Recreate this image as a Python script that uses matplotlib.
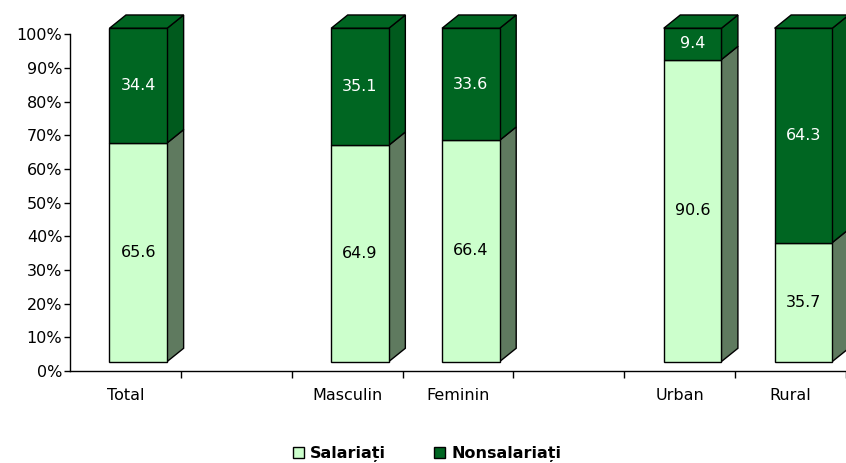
# %%
import matplotlib.pyplot as plt
import numpy as np
from matplotlib.patches import Patch, Polygon, Rectangle

# %%
categories = ['Total', '', 'Masculin', 'Feminin', '', 'Urban', 'Rural']
salariati = [65.6, np.nan, 64.9, 66.4, np.nan, 90.6, 35.7]
nonsalariati = [34.4, np.nan, 35.1, 33.6, np.nan, 9.4, 64.3]
series_names = ['Salariați', 'Nonsalariați']

LIGHT = '#ccffcc'
LIGHT_SIDE = '#5f7a5f'
DARK = '#006622'
DARK_SIDE = '#005a1d'

# fake 3D: front face sits a bit above the floor, depth goes up and right
BASE, SCALE = 2.8, 0.99
OFFSET, WIDTH = 0.116, 0.52
DX, DY = 0.149, 3.95


# %%
def draw_segment(ax, x0, y0, y1, face, side, top=False):
    """Draw one stacked block: front face, right side and optional top."""
    xr = x0 + WIDTH
    ax.add_patch(Polygon([(xr, y0), (xr + DX, y0 + DY), (xr + DX, y1 + DY), (xr, y1)],
                         facecolor=side, edgecolor='black', linewidth=1.0, zorder=2))
    if top:
        ax.add_patch(Polygon([(x0, y1), (x0 + DX, y1 + DY), (xr + DX, y1 + DY), (xr, y1)],
                             facecolor=face, edgecolor='black', linewidth=1.0, zorder=2))
    ax.add_patch(Rectangle((x0, y0), WIDTH, y1 - y0, facecolor=face,
                           edgecolor='black', linewidth=1.0, zorder=3))


# %%
plt.rcParams['font.family'] = 'DejaVu Sans'
fig = plt.figure(figsize=(8.46, 4.63), dpi=100)
ax = fig.add_axes([70 / 846, 92 / 463, 776 / 846, 371 / 463])
ax.set_xlim(-0.5, 6.416)
ax.set_ylim(0, 110.2)

for i, (s, n) in enumerate(zip(salariati, nonsalariati)):
    if np.isnan(s):
        continue
    x0 = i + OFFSET - WIDTH / 2
    y_mid = BASE + SCALE * s
    y_top = BASE + SCALE * (s + n)
    draw_segment(ax, x0, BASE, y_mid, LIGHT, LIGHT_SIDE)
    draw_segment(ax, x0, y_mid, y_top, DARK, DARK_SIDE, top=True)
    ax.text(x0 + WIDTH / 2, (BASE + y_mid) / 2, f'{s:.1f}', ha='center', va='center',
            fontsize=11.5, color='black', zorder=4)
    ax.text(x0 + WIDTH / 2, (y_mid + y_top) / 2, f'{n:.1f}', ha='center', va='center',
            fontsize=11.5, color='white', zorder=4)

ax.spines['top'].set_visible(False)
ax.spines['right'].set_visible(False)
ax.spines['left'].set_bounds(0, 100)
ax.spines['left'].set_linewidth(1.0)
ax.spines['bottom'].set_linewidth(1.0)

ax.set_yticks(np.arange(0, 101, 10))
ax.set_yticklabels([f'{v}%' for v in range(0, 101, 10)])
ax.tick_params(axis='y', length=4, width=1.0, pad=1.5, labelsize=11.5)

ax.set_xticks(range(len(categories)))
ax.set_xticklabels(categories)
ax.set_xticks(np.arange(len(categories)) + 0.5, minor=True)
ax.tick_params(axis='x', which='major', length=0, pad=12, labelsize=11.5)
ax.tick_params(axis='x', which='minor', length=5, width=1.0)

handles = [Patch(facecolor=LIGHT, edgecolor='black', linewidth=1.0),
           Patch(facecolor=DARK, edgecolor='black', linewidth=1.0)]
leg = fig.legend(handles, series_names, loc='center', bbox_to_anchor=(0.505, 0.02),
                 ncol=2, frameon=False, handlelength=0.7, handleheight=0.7,
                 handletextpad=0.4, columnspacing=3.0, borderpad=0,
                 prop={'size': 11.5, 'weight': 'bold'})

fig.savefig('out.png', dpi=100)
